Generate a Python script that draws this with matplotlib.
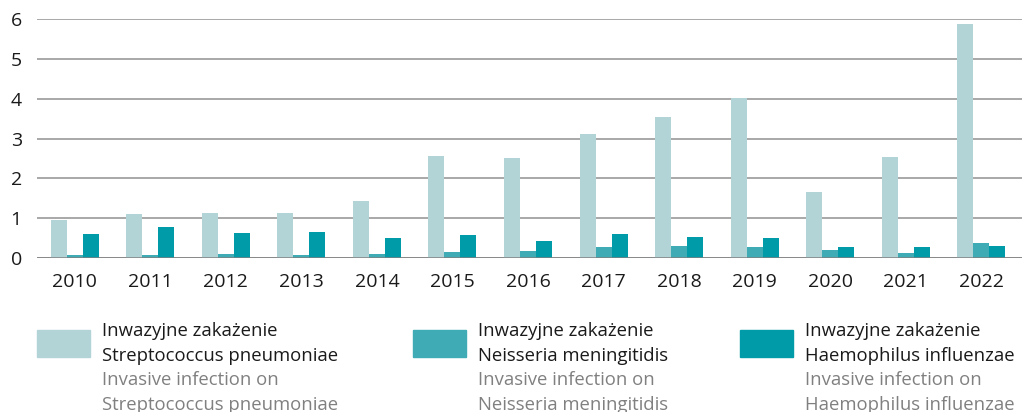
import matplotlib
matplotlib.use('Agg')
import matplotlib.pyplot as plt
import numpy as np
from matplotlib.patches import Rectangle

plt.rcParams['font.family'] = ['Open Sans', 'DejaVu Sans']

# data
years = ['2010', '2011', '2012', '2013', '2014', '2015', '2016',
         '2017', '2018', '2019', '2020', '2021', '2022']
strep = [0.95, 1.10, 1.12, 1.12, 1.43, 2.56, 2.51, 3.11, 3.54, 4.01, 1.65, 2.53, 5.87]
neiss = [0.07, 0.07, 0.09, 0.07, 0.09, 0.14, 0.17, 0.27, 0.29, 0.27, 0.19, 0.12, 0.37]
haemo = [0.60, 0.77, 0.62, 0.65, 0.50, 0.57, 0.42, 0.60, 0.52, 0.50, 0.27, 0.27, 0.29]

pl_line1 = ['Inwazyjne zakażenie'] * 3
pl_line2 = ['Streptococcus pneumoniae', 'Neisseria meningitidis', 'Haemophilus influenzae']
en_line1 = ['Invasive infection on'] * 3
en_line2 = pl_line2
colors = ['#b3d4d7', '#3eabb5', '#009ba8']

W, H = 1022, 412
fig = plt.figure(figsize=(W/100, H/100), dpi=100)
ax = fig.add_axes([37/W, 1-258/H, (W-37)/W, (258-19)/H])

x = np.arange(len(years))
bw = 0.212
for i, (vals, c) in enumerate(zip([strep, neiss, haemo], colors)):
    ax.bar(x + (i-1)*bw, vals, bw, color=c, zorder=3)

ax.set_ylim(0, 6)
ax.set_xlim(-0.5, 12.54)
ax.set_yticks(range(7))
ax.set_xticks(x)
ax.set_xticklabels(years)
ax.tick_params(length=0, labelsize=14, colors='#1a1a1a', pad=11)
ax.tick_params(axis='y', pad=19)
for lab in ax.get_yticklabels():
    lab.set_horizontalalignment('left')
ax.yaxis.grid(True, color='#9a9a9a', lw=1.2, zorder=0)
ax.axhline(0, color='#808080', lw=1.8, zorder=4)
for s in ax.spines.values():
    s.set_visible(False)

# legend, built by hand
lx = [37, 413, 740]
tx = [102, 478, 805]
fs = 13.3
for i in range(3):
    fig.patches.append(Rectangle((lx[i]/W, 1-357/H), 53/W, 27/H,
                                 transform=fig.transFigure, color=colors[i]))
    fig.text(tx[i]/W, 1-336/H, pl_line1[i], fontsize=fs, color='#1a1a1a', va='baseline')
    fig.text(tx[i]/W, 1-361/H, pl_line2[i], fontsize=fs, color='#1a1a1a', va='baseline')
    fig.text(tx[i]/W, 1-385/H, en_line1[i], fontsize=fs, color='#808080', va='baseline')
    fig.text(tx[i]/W, 1-410/H, en_line2[i], fontsize=fs, color='#808080', va='baseline')

fig.savefig('out.png', dpi=100)
